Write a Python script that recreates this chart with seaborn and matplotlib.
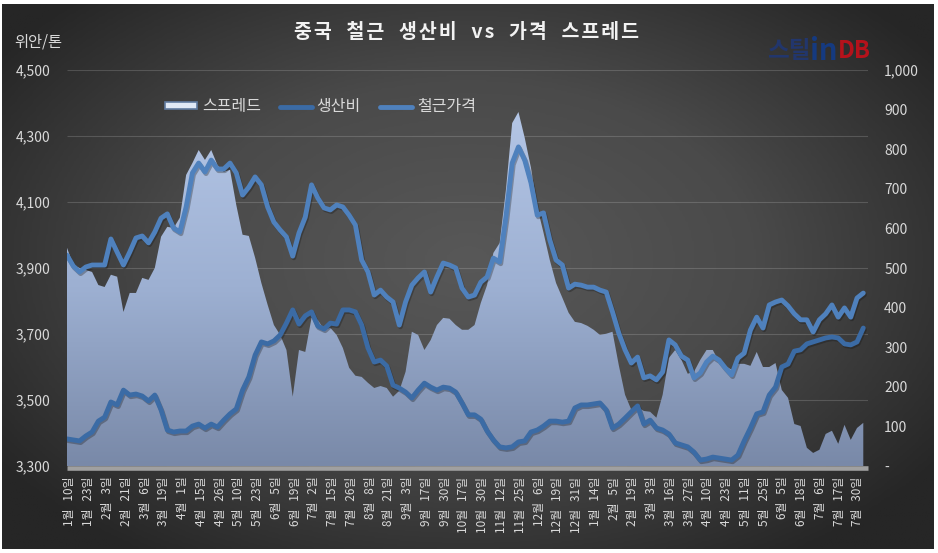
import numpy as np
import matplotlib
matplotlib.use('Agg')
import matplotlib.pyplot as plt
import matplotlib.patheffects as pe
from matplotlib.lines import Line2D
from matplotlib.patches import Patch
from matplotlib.ticker import FixedLocator, FixedFormatter
import pandas as pd
import seaborn as sns

# ── Data ──────────────────────────────────────────────────
PRICE = [
    3939, 3906, 3888, 3903, 3909, 3909, 3909, 3988, 3948, 3909, 3948, 3991, 3997, 3976, 4009, 4051,
    4064, 4021, 4009, 4085, 4188, 4218, 4191, 4227, 4200, 4200, 4218, 4188, 4121, 4145, 4176, 4152,
    4085, 4039, 4015, 3994, 3936, 4006, 4054, 4152, 4112, 4082, 4076, 4091, 4085, 4060, 4030, 3924,
    3888, 3818, 3833, 3812, 3797, 3727, 3797, 3848, 3870, 3888, 3827, 3873, 3915, 3909, 3900, 3839,
    3812, 3818, 3857, 3873, 3930, 3918, 4054, 4218, 4267, 4227, 4158, 4060, 4067, 3985, 3924, 3909,
    3839, 3851, 3848, 3842, 3842, 3833, 3827, 3767, 3703, 3652, 3612, 3630, 3567, 3573, 3561, 3585,
    3682, 3667, 3633, 3621, 3567, 3582, 3615, 3633, 3621, 3597, 3576, 3627, 3642, 3712, 3751, 3718,
    3788, 3797, 3803, 3785, 3761, 3743, 3743, 3706, 3743, 3761, 3788, 3751, 3779, 3751, 3809, 3824,
]
COST = [
    3382, 3379, 3376, 3391, 3403, 3436, 3448, 3494, 3485, 3530, 3515, 3518, 3512, 3497, 3515, 3470,
    3409, 3403, 3406, 3406, 3421, 3427, 3415, 3427, 3418, 3439, 3458, 3473, 3530, 3570, 3636, 3676,
    3670, 3679, 3697, 3733, 3773, 3730, 3755, 3767, 3724, 3715, 3733, 3730, 3773, 3773, 3767, 3727,
    3658, 3615, 3621, 3603, 3545, 3536, 3524, 3506, 3530, 3551, 3539, 3530, 3539, 3536, 3524, 3491,
    3455, 3455, 3442, 3406, 3379, 3358, 3355, 3358, 3373, 3376, 3403, 3409, 3421, 3436, 3436, 3433,
    3436, 3476, 3485, 3485, 3488, 3491, 3470, 3415, 3427, 3445, 3464, 3482, 3427, 3439, 3415, 3409,
    3397, 3370, 3364, 3358, 3342, 3318, 3321, 3327, 3324, 3321, 3318, 3333, 3376, 3415, 3458, 3464,
    3515, 3539, 3600, 3609, 3648, 3652, 3670, 3676, 3682, 3688, 3691, 3688, 3670, 3667, 3676, 3718,
]
SPREAD = [
    551, 508, 500, 495, 490, 457, 452, 483, 478, 389, 437, 437, 475, 470, 500, 579,
    604, 601, 627, 735, 765, 798, 773, 798, 760, 743, 748, 659, 584, 581, 526, 462,
    407, 356, 331, 293, 175, 293, 288, 374, 369, 344, 349, 331, 298, 248, 228, 225,
    210, 197, 202, 197, 175, 190, 238, 339, 331, 293, 318, 356, 374, 372, 356, 344,
    344, 356, 412, 457, 538, 563, 697, 866, 894, 829, 753, 654, 589, 520, 462, 425,
    387, 364, 361, 354, 344, 331, 334, 339, 255, 180, 142, 149, 139, 137, 122, 180,
    273, 293, 268, 233, 238, 268, 293, 293, 263, 253, 243, 258, 258, 253, 288, 250,
    250, 260, 192, 172, 106, 101, 46, 33, 41, 81, 89, 56, 104, 66, 96, 109,
]
DATE_LABELS = [
    '1월 10일', '1월 23일', '2월 3일', '2월 21일', '3월 6일', '3월 19일', '4월 1일', '4월 15일',
    '4월 26일', '5월 10일', '5월 23일', '6월 5일', '6월 19일', '7월 2일', '7월 15일', '7월 26일',
    '8월 8일', '8월 21일', '9월 3일', '9월 17일', '9월 30일', '10월 17일', '10월 30일', '11월 12일',
    '11월 25일', '12월 6일', '12월 19일', '12월 31일', '1월 14일', '2월 5일', '2월 19일', '3월 3일',
    '3월 16일', '3월 27일', '4월 10일', '4월 23일', '5월 11일', '5월 25일', '6월 5일', '6월 18일',
    '7월 6일', '7월 17일', '7월 30일',
]
LEFT_TICKS = [3300, 3500, 3700, 3900, 4100, 4300, 4500]
RIGHT_TICKS = [0, 100, 200, 300, 400, 500, 600, 700, 800, 900, 1000]
TITLE = '중국  철근  생산비  vs  가격  스프레드'

# ── Style ─────────────────────────────────────────────────
W, H = 938, 553
COLOR_PRICE = '#4f81bd'
COLOR_COST = '#3b6ba5'
COLOR_TEXT = '#d9d9d9'

sns.set_theme(style='dark')
plt.rcParams['font.family'] = ['Noto Sans CJK KR', 'DejaVu Sans']
plt.rcParams['axes.unicode_minus'] = False

df = pd.DataFrame({'idx': np.arange(len(PRICE)), 'price': PRICE, 'cost': COST, 'spread': SPREAD})

fig = plt.figure(figsize=(W / 100, H / 100), dpi=100, facecolor='white')

# dark vignette panel behind everything
bg = fig.add_axes([1.5 / W, 1 - 549 / H, (933 - 1.5) / W, (549 - 3.5) / H], zorder=0)
yy, xx = np.mgrid[0:1:200j, 0:1:300j]
dist = np.sqrt(((xx - 0.5) / 0.62) ** 2 + ((yy - 0.47) / 0.66) ** 2)
bg.imshow(np.clip(dist, 0, 1), cmap=matplotlib.colors.LinearSegmentedColormap.from_list(
    'vig', ['#585858', '#4a4a4a', '#262626']), aspect='auto', vmin=0, vmax=1)
bg.axis('off')

rect = [67 / W, 1 - 466 / H, (867.5 - 67) / W, (466 - 70) / H]
ax_r = fig.add_axes(rect, zorder=1)
ax_l = ax_r.twinx()
ax_l.set_zorder(2)
ax_r.patch.set_visible(False)
ax_l.patch.set_visible(False)

# secondary axis is the host here so the area stays under the lines
ax_r.yaxis.tick_right()
ax_l.yaxis.tick_left()

# ── Spread area with vertical gradient ────────────────────
area = ax_r.fill_between(df['idx'], df['spread'], 0, color='none', zorder=2)
grad = np.linspace(1, 0, 256).reshape(-1, 1)
cmap = matplotlib.colors.LinearSegmentedColormap.from_list('area', ['#7989a8', '#9db0d2', '#b4c6e6'])
im = ax_r.imshow(grad, cmap=cmap, extent=[0, 127, 0, 900], aspect='auto', zorder=2)
im.set_clip_path(area.get_paths()[0], transform=ax_r.transData)

# ── Lines ─────────────────────────────────────────────────
shadow = [pe.SimpleLineShadow(offset=(0.8, -1.2), alpha=0.3, shadow_color='#101010'), pe.Normal()]
sns.lineplot(data=df, x='idx', y='cost', ax=ax_l, color=COLOR_COST, linewidth=3.5,
             solid_joinstyle='round', path_effects=shadow, legend=False, zorder=4)
sns.lineplot(data=df, x='idx', y='price', ax=ax_l, color=COLOR_PRICE, linewidth=3.5,
             solid_joinstyle='round', path_effects=shadow, legend=False, zorder=5)

# ── Axes ──────────────────────────────────────────────────
ax_r.set_xlim(0, (867.5 - 67) / 6.27)
ax_l.set_xlim(0, (867.5 - 67) / 6.27)
ax_l.set_ylim(3300, 4500)
ax_r.set_ylim(0, 1000)
ax_l.set_xlabel('')
ax_l.set_ylabel('')
ax_r.set_ylabel('')
ax_r.grid(False)
ax_l.grid(False)

# gridlines belong to the left axis but must sit behind the area
ax_r.hlines(LEFT_TICKS[1:], 0, 1, transform=ax_l.get_yaxis_transform(),
            colors='white', alpha=0.16, linewidth=0.8, zorder=1)

ax_l.set_yticks(LEFT_TICKS)
ax_l.set_yticklabels([f'{v:,}' for v in LEFT_TICKS], fontsize=10, color=COLOR_TEXT)
ax_r.set_yticks(RIGHT_TICKS)
ax_r.set_yticklabels(['-'] + [f'{v:,}' for v in RIGHT_TICKS[1:]], fontsize=10, color=COLOR_TEXT)
ax_l.tick_params(axis='y', length=0, pad=12)
ax_r.tick_params(axis='y', length=0, pad=12)

label_pos = (70 - 67) / 6.27 + np.arange(len(DATE_LABELS)) * 18.76 / 6.27
tick_pos = (88.3 - 67) / 6.27 + np.arange(30) * 26.25 / 6.27
tick_pos = tick_pos[tick_pos < 127.5]
ax_r.xaxis.set_major_locator(FixedLocator(label_pos))
ax_r.xaxis.set_major_formatter(FixedFormatter([s.replace(' ', '   ') for s in DATE_LABELS]))
ax_r.xaxis.set_minor_locator(FixedLocator(tick_pos))
ax_r.tick_params(axis='x', which='major', length=0, pad=6, labelsize=8.5,
                 labelcolor=COLOR_TEXT, labelrotation=90)
ax_r.tick_params(axis='x', which='minor', direction='inout', length=3.4, width=0.8, color='#3a3a3a')
ax_l.tick_params(axis='x', bottom=False, labelbottom=False)

for ax in (ax_l, ax_r):
    for name in ('top', 'left', 'right', 'bottom'):
        ax.spines[name].set_visible(False)
ax_r.spines['bottom'].set_visible(True)
ax_r.spines['bottom'].set_color('#a0a0a0')
ax_r.spines['bottom'].set_linewidth(3.3)
ax_r.spines['bottom'].set_position(('outward', 1.7))
ax_r.spines['bottom'].set_capstyle('butt')

# ── Legend ────────────────────────────────────────────────
handles = [
    Patch(facecolor='#dfe8f5', edgecolor='#5f7a9f', linewidth=1.2),
    Line2D([], [], color=COLOR_COST, linewidth=3.5),
    Line2D([], [], color=COLOR_PRICE, linewidth=3.5),
]
leg = ax_l.legend(handles, ['스프레드', '생산비', '철근가격'], ncol=3, frameon=False,
                  loc='center left', bbox_to_anchor=((165 - 67) / 800.5, (466 - 107) / 396),
                  fontsize=11.5, labelcolor=COLOR_TEXT, handlelength=2.0, handleheight=0.3,
                  handletextpad=0.3, columnspacing=1.2, borderaxespad=0, borderpad=0)

# ── Titles and logo ───────────────────────────────────────
fig.text(466 / W, 1 - 33 / H, '\u200a'.join(TITLE), ha='center', va='center',
         fontsize=14, fontweight='bold', color='#f2f2f2', zorder=5)
fig.text(14 / W, 1 - 42 / H, '위안/톤', ha='left', va='center', fontsize=11, color=COLOR_TEXT, zorder=5)
fig.text(767 / W, 1 - 51 / H, '스틸', ha='left', va='center', fontsize=17, fontweight='bold',
         color='#22366c', zorder=5)
fig.text(810 / W, 1 - 51 / H, 'in', ha='left', va='center', fontsize=21, fontweight='bold',
         color='#153a80', zorder=5)
fig.text(838 / W, 1 - 51 / H, 'DB', ha='left', va='center', fontsize=17, fontweight='bold',
         color='#b5121b', zorder=5)

fig.savefig('out.png', dpi=100, facecolor='white')
print('saved out.png')
